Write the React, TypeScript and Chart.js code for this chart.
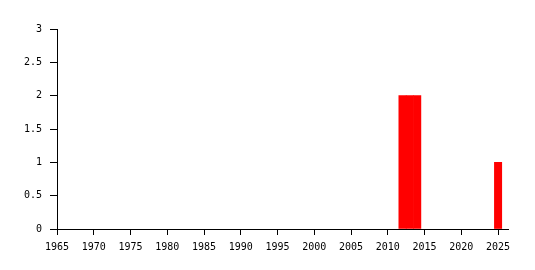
import React, { useEffect, useRef } from "react";
import { Chart, registerables } from "chart.js";

Chart.register(...registerables);

const years = [2012, 2013, 2014, 2025];
const counts = [2, 2, 2, 1];
const xTickValues = [1965, 1970, 1975, 1980, 1985, 1990, 1995, 2000, 2005, 2010, 2015, 2020, 2025];
const xMin = 1965;
const xMax = 2026.35;
const yMin = 0;
const yMax = 3;
const yStep = 0.5;

export default function App() {
  const ref = useRef<HTMLCanvasElement | null>(null);

  useEffect(() => {
    document.body.style.margin = "0";
    const font = { family: "'DejaVu Sans Mono', monospace", size: 10 };
    const chart = new Chart(ref.current!, {
      type: "bar",
      data: {
        datasets: [
          {
            data: years.map((y, i) => ({ x: y, y: counts[i] })),
            backgroundColor: "#ff0000",
            borderWidth: 0,
            barPercentage: 1,
            categoryPercentage: 1,
          },
        ],
      },
      options: {
        animation: false,
        responsive: false,
        devicePixelRatio: 1,
        layout: { padding: { top: 29, right: 27, left: 0, bottom: 0 } },
        plugins: { legend: { display: false }, tooltip: { enabled: false } },
        scales: {
          x: {
            type: "linear",
            min: xMin,
            max: xMax,
            offset: false,
            afterBuildTicks: (s: any) => {
              s.ticks = xTickValues.map((v) => ({ value: v }));
            },
            afterFit: (s: any) => {
              s.height = 41;
            },
            grid: { offset: false, drawOnChartArea: false, drawTicks: true, tickLength: 6, color: "#000" },
            border: { display: true, color: "#000", width: 1 },
            ticks: {
              color: "#000",
              font,
              padding: 6,
              maxRotation: 0,
              autoSkip: false,
              callback: (v: any) => String(v),
            },
          },
          y: {
            min: yMin,
            max: yMax,
            afterFit: (s: any) => {
              s.width = 57;
            },
            grid: { drawOnChartArea: false, drawTicks: true, tickLength: 7, color: "#000" },
            border: { display: true, color: "#000", width: 1 },
            ticks: { color: "#000", font, stepSize: yStep, padding: 8, callback: (v: any) => String(v) },
          },
        },
      },
    });
    return () => chart.destroy();
  }, []);

  return (
    <div style={{ position: "absolute", left: 0, top: 0, width: 535, height: 270 }}>
      <canvas ref={ref} width={535} height={270} style={{ width: 535, height: 270 }} />
    </div>
  );
}
